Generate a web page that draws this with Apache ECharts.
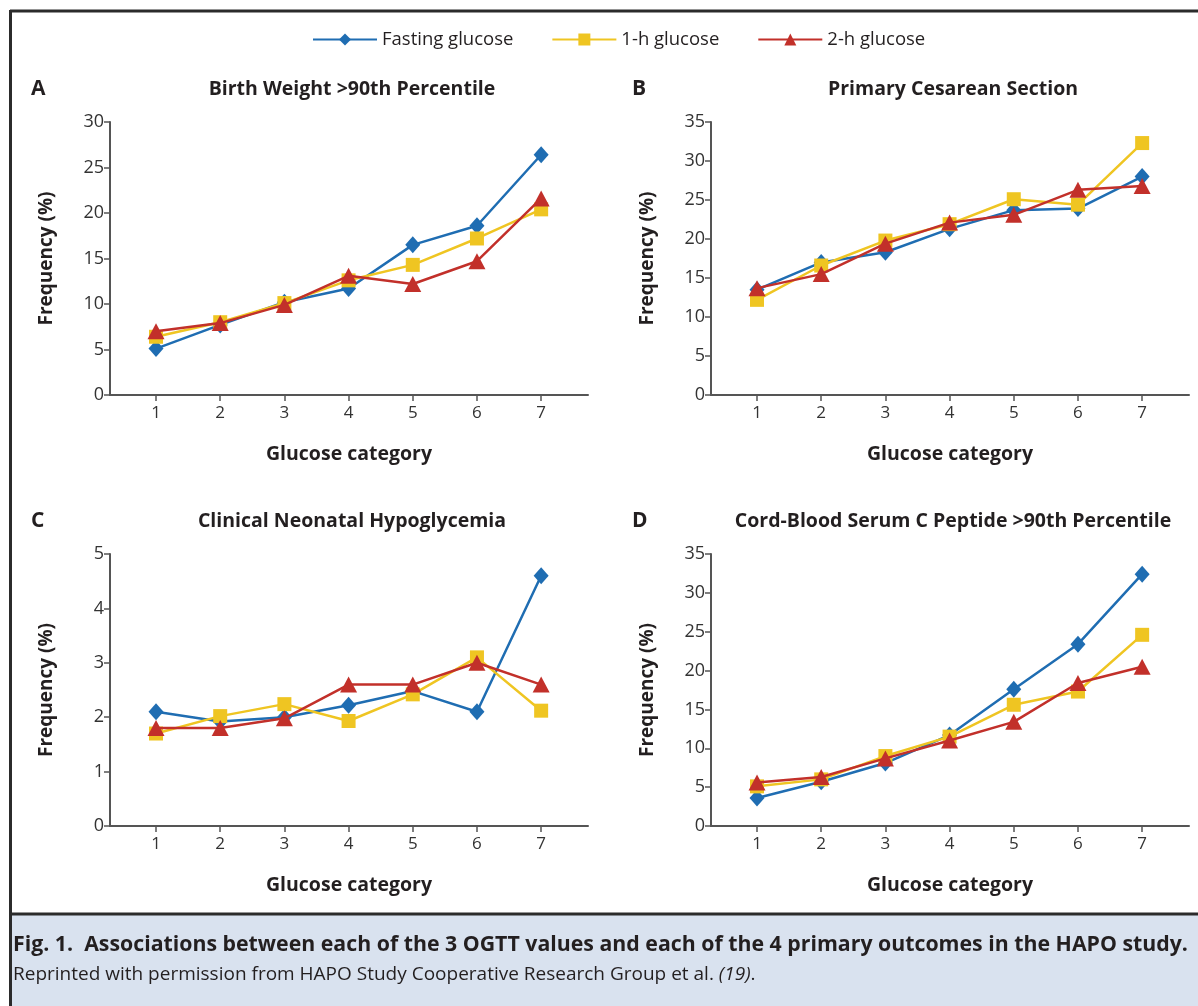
<!DOCTYPE html>
<html>
<head>
<meta charset="utf-8">
<script src="https://cdn.jsdelivr.net/npm/echarts@6/dist/echarts.min.js"></script>
<style>
  html, body { margin: 0; padding: 0; background: #fff; }
  #main { width: 1198px; height: 1006px; }
</style>
</head>
<body>
<div id="main"></div>
<script>
// glucose categories 1..7
var categories = [1, 2, 3, 4, 5, 6, 7];
var seriesNames = ['Fasting glucose', '1-h glucose', '2-h glucose'];

// A: Birth weight >90th percentile
var birthFasting = [5.1, 7.7, 10.2, 11.7, 16.5, 18.6, 26.4];
var birth1h      = [6.4, 8.0, 10.1, 12.6, 14.3, 17.2, 20.4];
var birth2h      = [7.0, 7.9, 9.9, 13.1, 12.2, 14.7, 21.6];

// B: Primary cesarean section
var cesFasting = [13.5, 17.0, 18.3, 21.3, 23.7, 23.9, 28.0];
var ces1h      = [12.2, 16.6, 19.8, 21.9, 25.1, 24.4, 32.3];
var ces2h      = [13.7, 15.5, 19.4, 22.1, 23.1, 26.3, 26.8];

// C: Clinical neonatal hypoglycemia
var hypoFasting = [2.1, 1.92, 2.0, 2.22, 2.48, 2.1, 4.6];
var hypo1h      = [1.7, 2.02, 2.24, 1.93, 2.42, 3.1, 2.12];
var hypo2h      = [1.8, 1.8, 1.98, 2.6, 2.6, 3.0, 2.6];

// D: Cord-blood serum C peptide >90th percentile
var peptFasting = [3.6, 5.7, 8.1, 11.7, 17.6, 23.4, 32.4];
var pept1h      = [5.1, 6.0, 9.0, 11.5, 15.6, 17.3, 24.6];
var pept2h      = [5.6, 6.3, 8.7, 11.0, 13.4, 18.4, 20.5];

var yMax = [30, 35, 5, 35];
var yStep = [5, 5, 1, 5];
var panelTitles = ['Birth Weight >90th Percentile', 'Primary Cesarean Section',
  'Clinical Neonatal Hypoglycemia', 'Cord-Blood Serum C Peptide >90th Percentile'];
var panelLetters = ['A', 'B', 'C', 'D'];

var panels = [
  [birthFasting, birth1h, birth2h],
  [cesFasting, ces1h, ces2h],
  [hypoFasting, hypo1h, hypo2h],
  [peptFasting, pept1h, pept2h]
];

var colors = ['#1f6db2', '#efc522', '#c2302a'];
var symbols = ['diamond', 'rect', 'triangle'];
var symbolSizes = [[15, 17], [14, 14], [17, 16]];

var font = '"Open Sans", "Liberation Sans", sans-serif';
var ink = '#231f20';

var grids = [
  { left: 110, top: 122, width: 478, height: 273 },
  { left: 711, top: 122, width: 478, height: 273 },
  { left: 110, top: 554, width: 478, height: 272 },
  { left: 711, top: 554, width: 478, height: 272 }
];

var xAxes = [], yAxes = [], series = [], titles = [];

grids.forEach(function (g, i) {
  xAxes.push({
    gridIndex: i, type: 'value', min: 0.283, max: 7.73,
    name: 'Glucose category', nameLocation: 'middle', nameGap: 49,
    nameTextStyle: { fontFamily: font, fontSize: 19.5, fontWeight: 'bold', color: ink },
    axisLine: { lineStyle: { color: '#555', width: 2 } },
    axisTick: { customValues: categories, length: 6, lineStyle: { color: '#555', width: 1.5 } },
    axisLabel: { customValues: categories, margin: 10, fontFamily: font, fontSize: 17, color: '#333' },
    splitLine: { show: false }
  });
  yAxes.push({
    gridIndex: i, type: 'value', min: 0, max: yMax[i], interval: yStep[i],
    name: 'Frequency (%)', nameLocation: 'middle', nameGap: 54,
    nameTextStyle: { fontFamily: font, fontSize: 19, fontWeight: 'bold', color: ink },
    axisLine: { show: true, lineStyle: { color: '#555', width: 2 } },
    axisTick: { show: true, length: 6, lineStyle: { color: '#555', width: 1.5 } },
    axisLabel: { margin: 6, fontFamily: font, fontSize: 18, color: '#333' },
    splitLine: { show: false }
  });
  panels[i].forEach(function (vals, s) {
    series.push({
      name: seriesNames[s], type: 'line', xAxisIndex: i, yAxisIndex: i,
      data: categories.map(function (c, k) { return [c, vals[k]]; }),
      symbol: symbols[s], symbolSize: symbolSizes[s],
      itemStyle: { color: colors[s] },
      lineStyle: { color: colors[s], width: 2.5 },
      z: 2 + s, animation: false
    });
  });
  titles.push({
    text: panelLetters[i], left: g.left - 84, top: g.top - 48,
    textStyle: { fontFamily: font, fontSize: 21, fontWeight: 'bold', color: ink }
  });
  titles.push({
    text: panelTitles[i], left: g.left + 237, top: g.top - 48, textAlign: 'center',
    textStyle: { fontFamily: font, fontSize: 19.5, fontWeight: 'bold', color: ink }
  });
});

var option = {
  backgroundColor: '#fff',
  animation: false,
  title: titles,
  legend: {
    top: 25, left: 307, itemWidth: 64, itemHeight: 15, itemGap: 38,
    data: seriesNames,
    textStyle: { fontFamily: font, fontSize: 18.5, color: ink }
  },
  grid: grids,
  xAxis: xAxes,
  yAxis: yAxes,
  series: series,
  graphic: [
    { type: 'rect', shape: { x: 10, y: 913, width: 1188, height: 93 }, style: { fill: '#d9e2ef' }, silent: true },
    { type: 'line', shape: { x1: 10, y1: 11, x2: 1198, y2: 11 }, style: { stroke: '#2b2b2b', lineWidth: 3 } },
    { type: 'line', shape: { x1: 10.5, y1: 10, x2: 10.5, y2: 1006 }, style: { stroke: '#2b2b2b', lineWidth: 3 } },
    { type: 'line', shape: { x1: 10, y1: 914, x2: 1198, y2: 914 }, style: { stroke: '#2b2b2b', lineWidth: 3 } },
    {
      type: 'text', left: 13, top: 934,
      style: {
        text: 'Fig. 1.  Associations between each of the 3 OGTT values and each of the 4 primary outcomes in the HAPO study.',
        font: 'bold 21.3px ' + font, fill: ink
      }
    },
    {
      type: 'text', left: 13, top: 965,
      style: {
        text: '{r|Reprinted with permission from HAPO Study Cooperative Research Group et al. }{i|(19)}{r|.}',
        rich: {
          r: { font: '19px ' + font, fill: ink },
          i: { font: 'italic 19px ' + font, fill: ink }
        }
      }
    }
  ]
};

var myChart = echarts.init(document.getElementById('main'));
myChart.setOption(option);
</script>
</body>
</html>
